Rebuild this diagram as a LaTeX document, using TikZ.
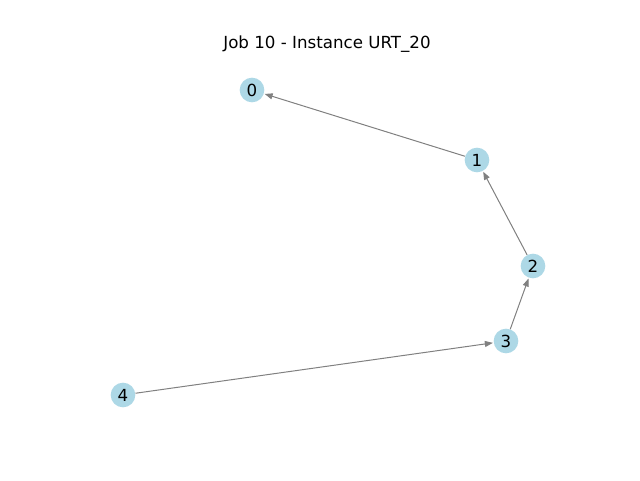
\documentclass[tikz,border=0pt]{standalone}
\usepackage{fontspec}
\setmainfont{DejaVu Sans}
\usetikzlibrary{arrows.meta}
\definecolor{nodeblue}{HTML}{ADD8E6}
\tikzset{
  vtx/.style={circle,fill=nodeblue,minimum size=18.5pt,inner sep=0pt,font=\fontsize{12.5}{14}\selectfont},
  edge/.style={draw={rgb,255:red,128;green,128;blue,128},line width=0.75pt,-{Stealth[length=6pt,width=4.5pt,inset=0pt]},shorten >=0.5pt}
}
\begin{document}
\begin{tikzpicture}[x=0.75pt,y=-0.75pt]
\useasboundingbox (0,0) rectangle (640,480);
\node[font=\fontsize{12.5}{14}\selectfont] (title) at (327,44) {Job 10 - Instance URT\_20};
\node[vtx] (n0) at (252,90) {0};
\node[vtx] (n1) at (477,160) {1};
\node[vtx] (n2) at (533,266) {2};
\node[vtx] (n3) at (506,341) {3};
\node[vtx] (n4) at (123,395) {4};
\draw[edge] (n1) -- (n0);
\draw[edge] (n2) -- (n1);
\draw[edge] (n3) -- (n2);
\draw[edge] (n4) -- (n3);
\end{tikzpicture}
\end{document}
